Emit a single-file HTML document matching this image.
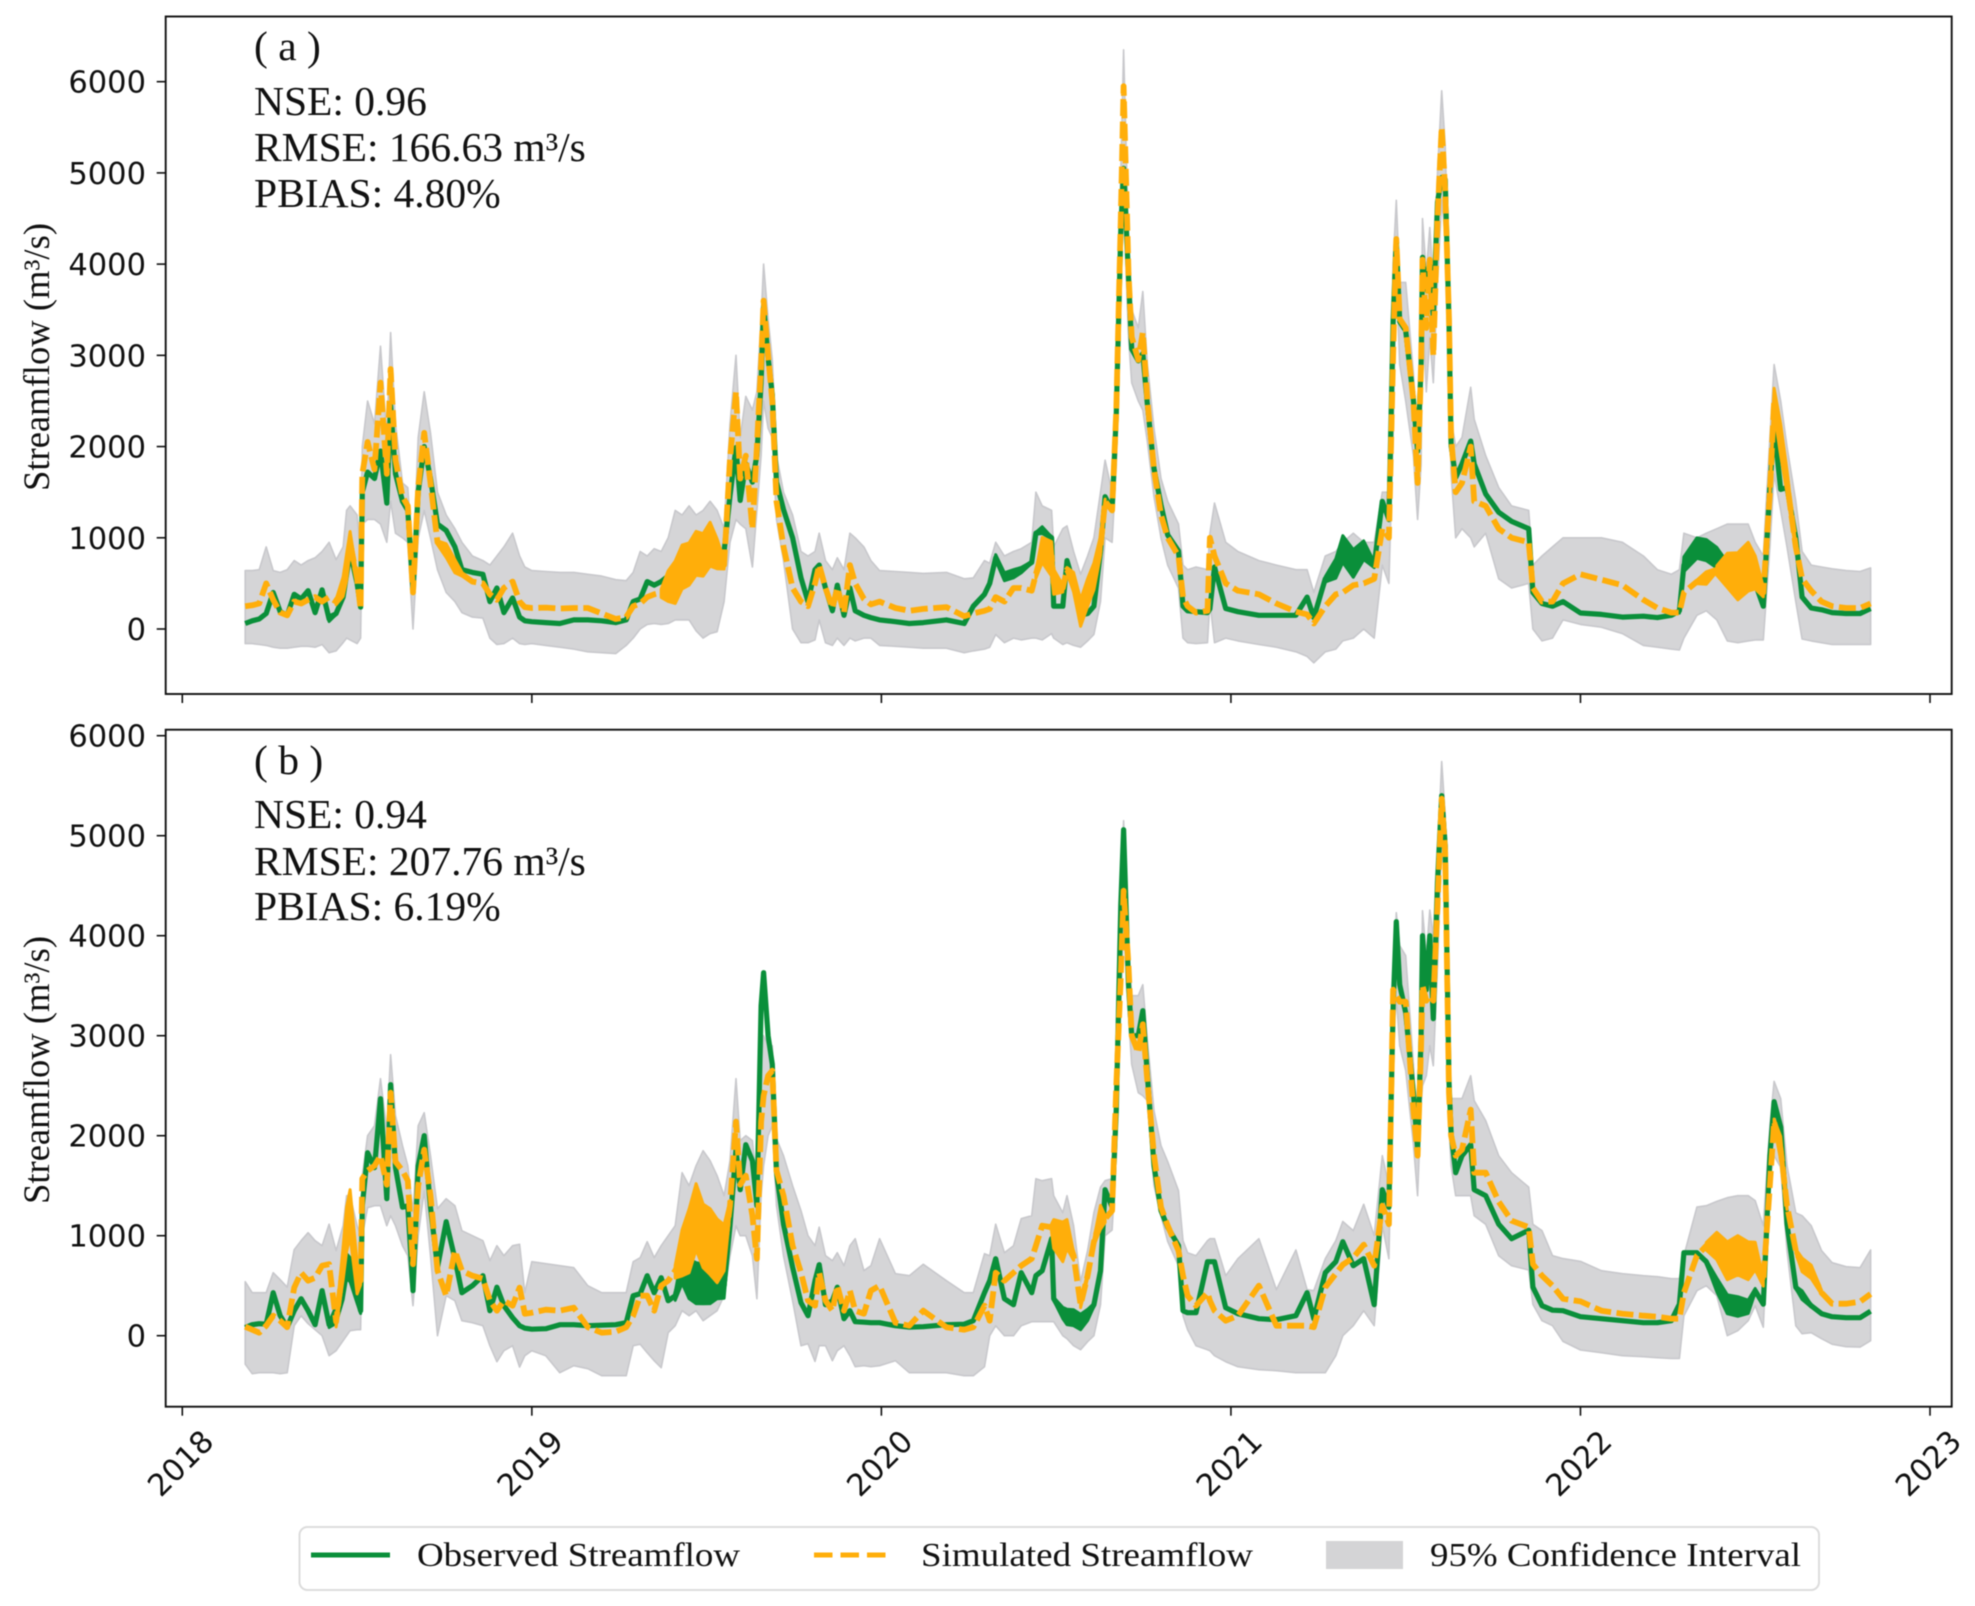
<!DOCTYPE html>
<html lang="en">
<head>
<meta charset="utf-8">
<title>Observed and simulated streamflow</title>
<style>
  html, body { margin: 0; padding: 0; background: #fff; }
  #chart { display: block; width: 1975px; height: 1606px; filter: blur(0.45px); }
  .tick-label { font-family: "DejaVu Sans", sans-serif; font-size: 30.5px; fill: #111; }
  .serif { font-family: "Liberation Serif", serif; fill: #111; }
</style>
</head>
<body>
<svg id="chart" xmlns="http://www.w3.org/2000/svg" width="1975" height="1606" viewBox="0 0 1975 1606">
  <rect x="0" y="0" width="1975" height="1606" fill="#fff"/>
  <g id="panel-a"></g>
  <g id="panel-b"></g>

  <g class="serif" font-size="41.5">
    <text x="254" y="60">( a )</text>
    <text x="254" y="115">NSE: 0.96</text>
    <text x="254" y="161">RMSE: 166.63 m³/s</text>
    <text x="254" y="207">PBIAS: 4.80%</text>
  </g>
  <g class="serif" font-size="41.5">
    <text x="254" y="774">( b )</text>
    <text x="254" y="828">NSE: 0.94</text>
    <text x="254" y="875">RMSE: 207.76 m³/s</text>
    <text x="254" y="920">PBIAS: 6.19%</text>
  </g>

  <text class="serif" font-size="36.6" text-anchor="middle" transform="translate(49 357) rotate(-90)">Streamflow (m³/s)</text>
  <text class="serif" font-size="36.6" text-anchor="middle" transform="translate(49 1070) rotate(-90)">Streamflow (m³/s)</text>

  <g>
    <rect x="299.5" y="1527" width="1519.5" height="63" rx="8" ry="8" fill="#fff" stroke="#dcdcdc" stroke-width="2"/>
    <line x1="311" y1="1555" x2="390" y2="1555" stroke="#0a8f3a" stroke-width="5"/>
    <text class="serif" font-size="34" x="417" y="1566" textLength="323" lengthAdjust="spacingAndGlyphs">Observed Streamflow</text>
    <line x1="814" y1="1555" x2="890" y2="1555" stroke="#ffae0a" stroke-width="5" stroke-dasharray="18.5 8"/>
    <text class="serif" font-size="34" x="921" y="1566" textLength="332" lengthAdjust="spacingAndGlyphs">Simulated Streamflow</text>
    <rect x="1326" y="1541" width="77" height="28" fill="#d4d4d6"/>
    <text class="serif" font-size="34" x="1430" y="1566" textLength="371" lengthAdjust="spacingAndGlyphs">95% Confidence Interval</text>
  </g>
</svg>

<script>
// ---------- data (decimal years; values in m3/s) ----------
const dates = [
2018.18,2018.20,2018.22,2018.24,2018.26,2018.28,2018.30,2018.32,2018.34,2018.36,
2018.38,2018.40,2018.42,2018.44,2018.46,2018.47,2018.48,2018.50,2018.51,2018.515,
2018.53,2018.55,2018.567,2018.585,2018.596,2018.61,2018.63,2018.645,2018.66,2018.675,
2018.692,2018.71,2018.73,2018.755,2018.78,2018.80,2018.83,2018.86,2018.88,2018.90,
2018.92,2018.945,2018.965,2018.98,2019.00,2019.04,2019.08,2019.12,2019.16,2019.20,
2019.24,2019.27,2019.29,2019.31,2019.33,2019.35,2019.37,2019.39,2019.41,2019.43,
2019.45,2019.47,2019.49,2019.51,2019.53,2019.55,2019.567,2019.584,2019.596,2019.612,
2019.631,2019.644,2019.656,2019.663,2019.676,2019.688,2019.70,2019.72,2019.746,2019.77,
2019.79,2019.81,2019.822,2019.84,2019.86,2019.874,2019.893,2019.91,2019.925,2019.95,
2019.97,2019.995,2020.04,2020.08,2020.12,2020.186,2020.237,2020.263,2020.295,2020.31,
2020.327,2020.352,2020.378,2020.40,2020.43,2020.442,2020.46,2020.487,2020.493,2020.519,
2020.531,2020.55,2020.57,2020.59,2020.608,2020.627,2020.64,2020.66,2020.672,2020.685,
2020.693,2020.707,2020.716,2020.735,2020.748,2020.761,2020.78,2020.80,2020.819,2020.85,
2020.863,2020.876,2020.90,2020.933,2020.94,2020.953,2020.985,2021.02,2021.08,2021.13,
2021.186,2021.218,2021.237,2021.27,2021.30,2021.32,2021.35,2021.38,2021.41,2021.433,
2021.452,2021.464,2021.473,2021.483,2021.50,2021.522,2021.534,2021.544,2021.548,2021.559,
2021.569,2021.579,2021.591,2021.603,2021.613,2021.624,2021.63,2021.643,2021.661,2021.686,
2021.696,2021.729,2021.766,2021.803,2021.852,2021.864,2021.89,2021.92,2021.95,2022.00,
2022.06,2022.12,2022.18,2022.22,2022.26,2022.283,2022.296,2022.333,2022.36,2022.39,
2022.42,2022.45,2022.48,2022.50,2022.523,2022.542,2022.554,2022.573,2022.591,2022.616,
2022.634,2022.66,2022.69,2022.72,2022.76,2022.80,2022.83];

const observedA = [
60,90,110,170,400,190,150,380,330,420,
180,430,110,170,350,600,850,500,240,1500,
1720,1650,1950,1380,2450,1700,1400,1300,430,1500,
2000,1650,1150,1080,900,650,620,600,300,450,
180,340,130,90,80,70,60,100,100,90,
70,100,300,330,520,480,520,580,620,650,
700,760,820,800,800,850,1460,1990,1410,1810,
1610,1910,2700,3550,2970,2570,1610,1310,1000,560,
300,650,700,450,200,480,150,450,200,150,
125,100,80,60,70,100,60,250,380,500,
780,580,600,650,730,1050,1080,1000,250,250,
750,500,150,170,250,850,1450,1300,2360,4370,
5050,3870,3070,2940,3020,2460,1760,1360,1030,855,
250,200,190,180,220,680,225,190,150,150,
150,350,125,550,650,900,700,880,700,1400,
1200,3370,4275,3370,3270,2515,1950,2870,4075,3720,
4000,3420,4680,4950,4930,3370,2010,1660,1810,2060,
1810,1480,1280,1180,1100,400,280,250,300,175,
160,130,140,125,150,200,700,905,850,800,
600,500,500,500,250,1560,2210,1530,1550,1000,
350,230,210,180,170,170,225];

const simulatedA = [
250,260,280,500,320,180,150,300,280,320,
350,300,350,300,450,700,950,550,220,1700,
2050,1750,2700,1700,2850,1850,1450,1350,400,1550,
2150,1600,950,850,700,600,520,500,380,320,
450,520,300,240,230,235,225,230,230,170,
110,130,250,280,350,380,400,450,550,650,
750,800,850,900,850,700,1860,2600,1650,1900,
1100,2000,2900,3600,3000,2500,1400,900,450,300,
250,500,700,450,230,450,180,700,500,330,
270,300,230,200,220,240,140,170,200,220,
350,300,450,450,420,600,850,800,500,450,
650,500,200,380,600,900,1400,1300,2400,4500,
5950,3900,3200,2950,3250,2500,1750,1250,1000,800,
350,250,180,200,1000,800,500,420,380,280,
190,160,60,250,380,400,480,500,550,1100,
1000,3000,4275,3400,3300,2500,1600,2900,4050,3300,
4050,3000,4500,5500,4800,3400,2100,1500,1600,2000,
1400,1350,1100,1000,950,450,300,300,500,600,
540,480,320,230,180,180,400,520,550,650,
620,620,650,650,400,1500,2500,2100,1600,900,
550,420,300,250,230,230,280];

const upperA = [
640,640,650,900,640,620,650,750,700,750,
780,850,950,760,900,1300,1350,1250,800,2000,
2500,2250,3100,2100,3250,2250,1600,1550,700,2100,
2600,2150,1500,1250,1100,950,800,750,700,800,
900,1050,800,680,640,630,620,620,600,580,
540,530,620,850,800,880,850,1000,1300,1250,
1350,1250,1300,1400,1300,1100,2250,3000,2100,2550,
2400,2600,3400,4000,3400,2950,1900,1500,1250,850,
800,850,1050,750,650,780,650,1050,1000,900,
750,640,630,620,610,620,550,560,750,720,
950,800,850,880,950,1500,1350,1300,900,1100,
1130,850,600,800,1000,1500,1850,1500,2700,5000,
6350,4300,3500,3300,3700,2900,2200,1650,1400,1150,
700,650,680,650,1050,1380,950,850,750,700,
650,650,400,800,850,950,1050,950,950,1500,
1500,4000,4700,3800,3800,2800,2100,3000,4500,3900,
4400,3800,5000,5900,5300,3800,2300,2000,2100,2650,
2300,1900,1550,1350,1300,700,800,900,1000,1000,
1000,950,800,650,600,650,1050,1000,1050,1100,
1150,1150,1150,950,800,2100,2900,2500,2000,1400,
850,700,680,660,640,630,670];

const lowerA = [
-160,-160,-170,-180,-200,-210,-210,-200,-190,-190,
-200,-170,-260,-240,-150,-100,-120,-160,-100,1150,
1200,1200,1150,950,1400,1050,1000,950,0,1000,
1300,1000,650,400,300,180,130,120,-100,-170,
-160,-100,-160,-170,-160,-180,-200,-220,-250,-260,
-270,-180,-100,0,50,60,50,60,100,100,
100,-20,-100,-50,-30,300,950,1200,1150,1100,
680,1300,1900,2500,2200,2100,1200,750,0,-150,
-150,-120,100,-150,-180,-100,-180,-100,-130,-100,
-100,-180,-190,-200,-210,-210,-260,-240,-220,-200,
-60,-150,-100,-120,-100,-100,-120,-50,-100,-170,
-150,-180,-200,-130,-60,300,1000,950,1800,3700,
4700,3200,2700,2500,2400,2050,1450,1000,700,450,
-100,-150,-160,-150,300,-150,-100,-130,-170,-200,
-250,-300,-370,-250,-220,-130,-100,0,-100,700,
500,2100,3900,2900,2500,1900,1200,1800,3500,2600,
3200,2700,3800,4700,4300,2800,1700,1000,1100,1000,
900,1050,550,450,500,0,-130,-100,100,50,
20,-50,-180,-200,-220,-230,-100,150,200,100,
-130,-150,-130,-120,-120,900,1700,1300,900,300,
-110,-130,-150,-170,-170,-170,-170];

const observedB = [
80,110,120,115,430,200,85,250,370,250,
110,450,110,200,500,680,680,400,250,1300,
1830,1680,2370,1370,2510,1680,1285,1300,450,1700,
2000,1285,685,1140,770,430,500,600,250,485,
300,180,100,75,65,70,110,110,100,105,
110,130,400,420,600,430,580,350,400,650,
600,500,550,500,600,500,1100,1860,1460,1910,
1750,1300,3300,3630,3000,2715,1630,1115,685,330,
200,550,710,310,350,485,170,250,140,135,
130,130,100,85,90,110,115,150,430,550,
770,370,310,630,430,600,650,970,370,220,
200,170,150,200,310,650,1460,1285,2260,4310,
5060,3510,3000,3000,3250,2600,1700,1250,1085,900,
250,230,230,740,740,740,280,220,170,160,
200,430,170,630,740,940,700,770,310,1460,
1285,3285,4140,3510,3230,2430,1860,3000,4000,3460,
4000,3170,4540,5400,4900,2540,2030,1630,1800,1910,
1460,1400,1115,970,1055,485,300,255,250,190,
170,150,130,130,150,315,830,830,740,500,
330,280,300,450,315,1800,2340,2085,1115,485,
400,300,220,190,180,180,245];

const simulatedB = [
90,60,30,100,200,150,85,480,630,550,
580,700,715,140,700,1100,1200,600,550,1570,
1650,1700,1800,1510,2430,1740,1650,1550,715,1500,
1860,1400,650,400,850,650,600,570,350,250,
350,300,480,220,230,260,250,280,85,30,
40,85,200,400,400,250,500,550,650,800,
1000,1150,1050,900,900,850,1300,2140,1510,1600,
1200,770,2140,2400,2600,2650,1650,1400,900,630,
350,300,630,350,250,500,250,450,250,220,
450,500,130,100,250,85,60,85,300,150,
630,550,630,700,770,900,1100,1085,1000,970,
1000,800,310,600,940,1170,1170,1250,2500,3600,
4450,3700,3000,2830,3114,2540,1800,1285,1100,850,
600,400,300,430,350,250,150,200,500,100,
100,100,85,485,620,710,780,910,700,1300,
1115,3460,3400,3340,3340,2260,1800,2900,3500,3350,
3400,3350,4300,5370,4830,2430,2000,1800,1860,2260,
1630,1630,1340,1150,1085,715,600,500,370,343,
250,220,200,190,170,170,430,800,900,880,
780,780,780,780,540,1514,2140,1860,1300,850,
700,650,430,320,320,340,417];

const upperB = [
540,430,430,430,630,560,485,860,950,1030,
950,900,1115,850,1100,1400,1400,1100,1000,1600,
2000,2100,2570,2050,2810,2200,1900,1700,1230,2100,
2230,1800,1270,1370,1300,1050,1000,950,750,900,
800,900,914,430,740,720,700,680,500,430,
430,430,740,780,940,780,900,1000,1100,1630,
1500,1700,1850,1750,1600,1400,1750,2570,1950,2000,
1950,1500,2700,3000,2900,2900,1970,1800,1500,1250,
1000,900,1085,800,750,830,700,900,970,650,
700,970,620,600,714,550,430,430,820,800,
1115,830,900,1170,1200,1570,1550,1570,1400,1230,
1400,1100,540,850,1230,1485,1550,1570,2900,4500,
5150,3950,3400,3400,3510,2950,2250,1900,1740,1450,
950,830,800,950,970,970,600,770,970,460,
857,460,450,770,950,1142,1050,1314,1000,1800,
1500,3600,4230,3900,3800,2714,1914,3200,4250,3800,
4257,4000,4800,5742,5200,2800,2371,2371,2371,2600,
2350,2150,1800,1630,1486,1114,1050,800,771,743,
650,620,600,590,570,571,800,1286,1300,1343,
1380,1400,1400,1350,1100,2100,2543,2371,1700,1228,
1200,1100,850,730,690,680,857];

const lowerB = [
-285,-380,-370,-370,-370,-380,-370,100,200,120,
60,0,-200,-150,-50,0,50,60,60,1000,
1280,1300,1300,1100,1200,1100,900,800,300,1000,
1450,800,0,400,350,150,130,100,-100,-260,
-150,-100,-314,-200,-150,-200,-370,-300,-330,-400,
-400,-400,-100,-85,-170,-250,-320,30,100,250,
200,250,150,200,250,400,800,1100,1000,1000,
800,370,1400,1700,2000,2100,1300,800,350,-100,
-80,-257,-100,-100,-250,-150,-100,-200,-310,-300,
-310,-300,-250,-370,-370,-370,-400,-400,-310,0,
100,0,0,100,140,140,140,140,140,0,
-30,-100,-140,-60,0,310,1000,1057,1800,3300,
4100,3200,2714,2430,2400,2350,1500,1200,943,700,
200,60,-100,-140,-150,-200,-260,-310,-340,-350,
-370,-370,-370,-370,-200,0,100,250,100,1100,
770,2830,3400,2900,2650,1914,1400,2300,2500,2600,
2900,2700,3700,4950,4400,2100,1700,1400,1400,1400,
1200,1114,800,700,657,314,150,100,-57,-143,
-170,-200,-210,-220,-228,-228,200,450,500,400,
0,50,150,300,85,1550,1800,1685,850,100,
20,30,-30,-85,-110,-114,-50];

// fast day-to-day swings that thicken a series: [from-date, to-date, half-amplitude]
const observedSwingA = [[2020.30,2020.44,50],[2020.44,2020.49,60],[2021.25,2021.43,170],[2022.28,2022.52,130],[2018.40,2018.44,50]];
const simulatedSwingA = [[2018.44,2018.50,170],[2018.73,2018.80,120],[2019.37,2019.56,270],[2020.44,2020.53,220],[2020.53,2020.64,170],[2022.30,2022.39,110],[2022.38,2022.53,300],[2022.54,2022.63,200]];
const observedSwingB = [[2018.42,2018.51,140],[2019.40,2019.57,230],[2020.49,2020.62,90],[2022.36,2022.52,110],[2022.61,2022.67,70]];
const simulatedSwingB = [[2018.44,2018.51,260],[2019.40,2019.57,370],[2020.47,2020.56,230],[2020.56,2020.60,150],[2020.60,2020.65,190],[2022.36,2022.53,220],[2022.55,2022.61,190],[2022.60,2022.71,110]];

const yearTicks = [2018, 2019, 2020, 2021, 2022, 2023];
const valueTicks = [0, 1000, 2000, 3000, 4000, 5000, 6000];

// ---------- axis functions ----------
const SVG_NS = 'http://www.w3.org/2000/svg';
function xScale(year) { return 182.3 + (year - 2018) * 349.54; }
function yScaleA(value) { return 629 - value * 0.09122; }
function yScaleB(value) { return 1335.7 - value * 0.1; }

function make(parent, tag, attrs) {
  const node = document.createElementNS(SVG_NS, tag);
  for (const key in attrs) node.setAttribute(key, attrs[key]);
  parent.appendChild(node);
  return node;
}
function linePoints(values, yScale) {
  return values.map((v, i) => xScale(dates[i]).toFixed(1) + ',' + yScale(v).toFixed(1)).join(' ');
}
function bandPoints(high, low, yScale) {
  const forward = high.map((v, i) => xScale(dates[i]).toFixed(1) + ',' + yScale(v).toFixed(1));
  const back = low.map((v, i) => xScale(dates[i]).toFixed(1) + ',' + yScale(v).toFixed(1)).reverse();
  return forward.concat(back).join(' ');
}
function swingPoints(values, swing, yScale) {
  const idx = [];
  dates.forEach((d, i) => { if (d >= swing[0] && d <= swing[1]) idx.push(i); });
  const n = idx.length;
  // taper at both ends and roughen alternate dates, so the patch reads as a jagged trace
  const amp = k => swing[2] * Math.min(1, (k + 0.4) / 2, (n - k - 0.6) / 2) * (k % 2 ? 1 : 0.72);
  const ampLow = k => swing[2] * Math.min(1, (k + 0.4) / 2, (n - k - 0.6) / 2) * (k % 2 ? 0.78 : 1);
  const top = idx.map((i, k) => xScale(dates[i]).toFixed(1) + ',' + yScale(values[i] + amp(k)).toFixed(1));
  const bottom = idx.map((i, k) => xScale(dates[i]).toFixed(1) + ',' + yScale(values[i] - ampLow(k)).toFixed(1)).reverse();
  return top.concat(bottom).join(' ');
}

function drawPanel(groupId, prefix, box, yScale, low, high, observed, simulated, obsSwing, simSwing, showYearLabels) {
  const g = document.getElementById(groupId);

  const band = make(g, 'polygon', { points: bandPoints(high, low, yScale), fill: '#d5d5d7', stroke: '#c8c8cc', 'stroke-width': 1.6, 'stroke-linejoin': 'round' });
  
  

  const obsLine = make(g, 'polyline', { points: linePoints(observed, yScale), fill: 'none', stroke: '#0a8f3a', 'stroke-width': 5.2, 'stroke-linejoin': 'round' });
  
  

  obsSwing.forEach(s => {
    const patch = make(g, 'polygon', { points: swingPoints(observed, s, yScale), fill: '#0a8f3a', stroke: '#0a8f3a', 'stroke-width': 3, 'stroke-linejoin': 'round' });
    
    
  });

  simSwing.forEach(s => {
    const patch = make(g, 'polygon', { points: swingPoints(simulated, s, yScale), fill: '#ffae0a', stroke: '#ffae0a', 'stroke-width': 3, 'stroke-linejoin': 'round' });
    
    
  });

  const simLine = make(g, 'polyline', { points: linePoints(simulated, yScale), fill: 'none', stroke: '#ffae0a', 'stroke-width': 5.8, 'stroke-dasharray': '17 5.5', 'stroke-linejoin': 'round' });
  
  

  const frame = make(g, 'rect', { x: box.left, y: box.top, width: box.right - box.left, height: box.bottom - box.top, fill: 'none', stroke: '#111', 'stroke-width': 1.9 });
  
  

  valueTicks.forEach(v => {
    const tick = make(g, 'line', { x1: box.left - 9, x2: box.left, y1: yScale(v), y2: yScale(v), stroke: '#111', 'stroke-width': 1.6 });
    
    
    const label = make(g, 'text', { x: 146, y: yScale(v) + 11, 'text-anchor': 'end', class: 'tick-label' });
    label.textContent = String(v);
    
    
  });

  yearTicks.forEach(y => {
    const tick = make(g, 'line', { x1: xScale(y), x2: xScale(y), y1: box.bottom, y2: box.bottom + 9, stroke: '#111', 'stroke-width': 1.6 });
    
    
    if (showYearLabels) {
      const cx = xScale(y) - 2;
      const label = make(g, 'text', { x: cx, y: 1474, 'text-anchor': 'middle', class: 'tick-label', transform: 'rotate(-45 ' + cx + ' 1463)' });
      label.textContent = String(y);
      
      
    }
  });
}

drawPanel('panel-a', 'panel-a', { left: 165.7, right: 1951.7, top: 16.5, bottom: 694 }, yScaleA, lowerA, upperA, observedA, simulatedA, observedSwingA, simulatedSwingA, false);
drawPanel('panel-b', 'panel-b', { left: 165.7, right: 1951.7, top: 729.7, bottom: 1406.7 }, yScaleB, lowerB, upperB, observedB, simulatedB, observedSwingB, simulatedSwingB, true);
</script>
</body>
</html>
